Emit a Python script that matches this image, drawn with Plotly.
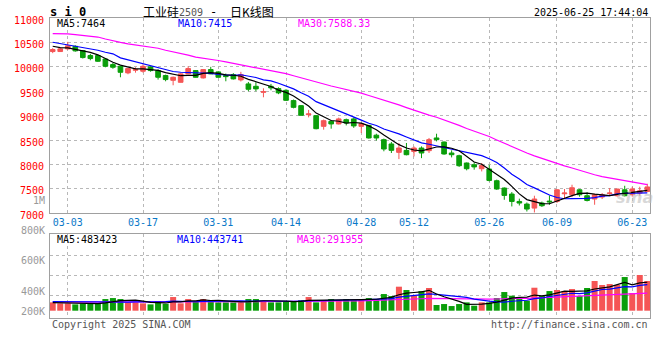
import plotly.graph_objects as go

# ---------------- data ----------------
dates = ["02-27", "02-28",
         "03-03", "03-04", "03-05", "03-06", "03-07",
         "03-10", "03-11", "03-12", "03-13", "03-14",
         "03-17", "03-18", "03-19", "03-20", "03-21",
         "03-24", "03-25", "03-26", "03-27", "03-28",
         "03-31", "04-01", "04-02", "04-03",
         "04-07", "04-08", "04-09", "04-10", "04-11",
         "04-14", "04-15", "04-16", "04-17", "04-18",
         "04-21", "04-22", "04-23", "04-24", "04-25",
         "04-28", "04-29", "04-30",
         "05-06", "05-07", "05-08", "05-09",
         "05-12", "05-13", "05-14", "05-15", "05-16",
         "05-19", "05-20", "05-21", "05-22", "05-23",
         "05-26", "05-27", "05-28", "05-29", "05-30",
         "06-03", "06-04", "06-05", "06-06",
         "06-09", "06-10", "06-11", "06-12", "06-13",
         "06-16", "06-17", "06-18", "06-19", "06-20",
         "06-23", "06-24", "06-25"]

x_tick_labels = ["03-03", "03-17", "03-31", "04-14", "04-28",
                 "05-12", "05-26", "06-09", "06-23"]
price_ticks = [7000, 7500, 8000, 8500, 9000, 9500, 10000, 10500, 11000]

opens = [10313, 10313, 10368, 10420, 10333, 10231, 10231, 10160, 10046, 10011,
         9876, 9930, 9910, 9999, 9923, 9821, 9724, 9683, 9855, 9923,
         9773, 9944, 9896, 9821, 9841, 9732, 9650, 9601, 9478, 9601,
         9554, 9519, 9308, 9205, 9020, 9000, 8781, 8883, 8830, 8918,
         8933, 8781, 8800, 8600, 8508, 8420, 8248, 8289, 8268, 8337,
         8283, 8543, 8460, 8235, 8180, 8030, 7995, 7913, 7907, 7667,
         7517, 7394, 7243, 7189, 7107, 7210, 7250, 7243, 7400, 7380,
         7482, 7360, 7292, 7333, 7405, 7360, 7482, 7380, 7415, 7448]
closes = [10354, 10368, 10430, 10327, 10190, 10169, 10114, 10011, 9991, 9888,
          9964, 9944, 10011, 9923, 9786, 9739, 9786, 9855, 9964, 9786,
          9944, 9855, 9786, 9800, 9753, 9841, 9540, 9548, 9490, 9568,
          9466, 9314, 9170, 9007, 9035, 8733, 8897, 8830, 8933, 8850,
          8790, 8836, 8543, 8543, 8317, 8289, 8337, 8200, 8337, 8235,
          8508, 8508, 8215, 8200, 7975, 7913, 7950, 7981, 7673, 7497,
          7366, 7243, 7210, 7087, 7292, 7155, 7235, 7482, 7415, 7523,
          7380, 7263, 7380, 7380, 7415, 7497, 7360, 7497, 7460, 7540]
highs = [10383, 10385, 10512, 10440, 10345, 10265, 10245, 10175, 10080, 10020,
         9980, 9990, 10050, 10010, 9950, 9840, 9800, 9870, 10011, 9930,
         9950, 10000, 9910, 9862, 9870, 9897, 9690, 9683, 9560, 9650,
         9580, 9540, 9330, 9215, 9118, 9010, 8920, 8900, 8960, 8940,
         8965, 8850, 8810, 8630, 8530, 8460, 8440, 8440, 8370, 8370,
         8543, 8630, 8470, 8290, 8200, 8040, 8042, 8030, 7995, 7690,
         7530, 7435, 7300, 7222, 7360, 7240, 7366, 7497, 7497, 7585,
         7497, 7430, 7400, 7415, 7517, 7500, 7564, 7544, 7544, 7605]
lows = [10280, 10305, 10350, 10310, 10170, 10134, 10100, 9990, 9960, 9786,
        9848, 9880, 9880, 9900, 9739, 9704, 9622, 9680, 9850, 9780,
        9760, 9850, 9780, 9704, 9740, 9700, 9500, 9500, 9376, 9520,
        9440, 9300, 9150, 9000, 8965, 8720, 8713, 8733, 8820, 8800,
        8750, 8645, 8530, 8490, 8270, 8235, 8110, 8187, 8165, 8130,
        8235, 8473, 8200, 8145, 7950, 7880, 7893, 7858, 7653, 7480,
        7277, 7140, 7160, 7037, 7017, 7130, 7175, 7210, 7292, 7333,
        7340, 7243, 7175, 7292, 7360, 7340, 7346, 7340, 7360, 7435]

volumes = [145000, 128000, 128000, 110000, 122000, 122000, 128000, 203000, 220000, 203000,
           145000, 145000, 128000, 110000, 168000, 122000, 238000, 128000, 203000, 168000,
           203000, 186000, 145000, 145000, 145000, 145000, 203000, 203000, 168000, 145000,
           145000, 168000, 168000, 186000, 238000, 145000, 186000, 203000, 186000, 203000,
           186000, 186000, 220000, 203000, 290000, 255000, 418000, 360000, 261000, 342000,
           395000, 99000, 116000, 81000, 116000, 145000, 87000, 145000, 145000, 220000,
           325000, 261000, 203000, 174000, 400000, 255000, 342000, 360000, 342000, 377000,
           255000, 395000, 517000, 447000, 464000, 447000, 586000, 307000, 621000, 517000]

# moving-average values before a full window exists
ma5_head = [10422, 10395, 10389, 10354]
ma10_head = [10504, 10477, 10463, 10436, 10409, 10374, 10340, 10299, 10266]
ma30_head = [10682, 10680, 10676, 10660, 10647, 10630, 10610, 10570, 10530, 10500,
             10470, 10450, 10420, 10400, 10380, 10340, 10310, 10270, 10240, 10200,
             10180, 10150, 10130, 10100, 10070, 10040, 10000, 9980, 9950]
vma5_head = [140000, 135000, 130000, 125000]
vma10_head = [160000, 158000, 155000, 152000, 150000, 148000, 148000, 148000, 150000]
vma30_head = [150000, 150000, 149000, 149000, 148000, 148000, 148000, 147000, 147000, 147000,
              147000, 147000, 147000, 147000, 148000, 148000, 148000, 149000, 150000, 150000,
              151000, 151000, 152000, 152000, 153000, 153000, 154000, 155000, 156000]

price_legend = [("MA5:7464", "#000000"), ("MA10:7415", "#0000ff"), ("MA30:7588.33", "#ff00ff")]
vol_legend = [("MA5:483423", "#000000"), ("MA10:443741", "#0000ff"), ("MA30:291955", "#ff00ff")]
vol_axis_labels = ["1M", "800K", "600K", "400K", "200K"]


def sma(vals, n, head):
    out = list(head)
    for i in range(n - 1, len(vals)):
        out.append(sum(vals[i - n + 1:i + 1]) / n)
    return out


ma5 = sma(closes, 5, ma5_head)
ma10 = sma(closes, 10, ma10_head)
ma30 = sma(closes, 30, ma30_head)
vma5 = sma(volumes, 5, vma5_head)
vma10 = sma(volumes, 10, vma10_head)
vma30 = sma(volumes, 30, vma30_head)

# ---------------- styling ----------------
RED = "#f55555"
GREEN = "#0a9e0a"
MONO = "DejaVu Sans Mono"
CJK = "Noto Sans CJK SC"
GRID = "#b8b8b8"
FRAME = "#a0a0a0"

L, T, W, H = 50, 18, 600, 300


def px(x):
    return (x - L) / W


def py(y):
    return (T + H - y) / H


VOL_PER_PX = 17406
vol_range = [-(T + H - 310.7) * VOL_PER_PX, (310.7 - 234) * VOL_PER_PX]
vol_grid = [(310.7 - g) * VOL_PER_PX for g in (255, 275.3, 295.3)]

fig = go.Figure()

fig.add_trace(go.Candlestick(
    x=dates, open=opens, high=highs, low=lows, close=closes,
    increasing=dict(line=dict(color=RED, width=1), fillcolor=RED),
    decreasing=dict(line=dict(color=GREEN, width=1), fillcolor=GREEN),
    whiskerwidth=0, showlegend=False, hoverinfo="skip",
    xaxis="x", yaxis="y"))

for series, col in ((ma30, "#ff00ff"), (ma10, "#0000ff"), (ma5, "#000000")):
    fig.add_trace(go.Scatter(x=dates, y=series, mode="lines",
                             line=dict(color=col, width=1.2),
                             showlegend=False, hoverinfo="skip",
                             xaxis="x", yaxis="y"))

bar_colors = [RED if c >= o else GREEN for o, c in zip(opens, closes)]
fig.add_trace(go.Bar(x=dates, y=volumes, marker=dict(color=bar_colors, line=dict(width=0)),
                     width=0.8, showlegend=False, hoverinfo="skip",
                     xaxis="x2", yaxis="y2"))
for series, col in ((vma30, "#ff00ff"), (vma10, "#0000ff"), (vma5, "#000000")):
    fig.add_trace(go.Scatter(x=dates, y=series, mode="lines",
                             line=dict(color=col, width=1.2),
                             showlegend=False, hoverinfo="skip",
                             xaxis="x2", yaxis="y2"))

common_x = dict(type="category", range=[-0.36, 79.36], tickvals=x_tick_labels,
                showgrid=True, gridcolor=GRID, griddash="dot", gridwidth=1,
                showline=True, linecolor=FRAME, linewidth=1, mirror=True,
                ticks="", zeroline=False, fixedrange=True, automargin=False)
common_y = dict(showgrid=True, gridcolor=GRID, griddash="dot", gridwidth=1,
                showline=True, linecolor=FRAME, linewidth=1, mirror=True,
                ticks="", zeroline=False, fixedrange=True, automargin=False)

fig.update_layout(
    width=660, height=360,
    margin=dict(l=L, r=660 - L - W, t=T, b=360 - T - H, autoexpand=False),
    paper_bgcolor="white", plot_bgcolor="white",
    showlegend=False, boxgap=0.12, bargap=0.2,
    xaxis=dict(common_x, domain=[0, 1], anchor="y",
               tickfont=dict(family=MONO, size=10, color="#0a78c8"),
               rangeslider=dict(visible=False)),
    yaxis=dict(common_y, domain=[py(213.3), 1], range=[7000, 11000],
               tickvals=price_ticks, ticktext=[str(v) for v in price_ticks],
               tickfont=dict(family=MONO, size=10, color="#ff0000"),
               ticklabelshift=2, ticklabelstandoff=3),
    xaxis2=dict(common_x, domain=[0, 1], anchor="y2", matches="x",
                showticklabels=False),
    yaxis2=dict(common_y, domain=[0, py(234)], range=vol_range,
                tickvals=vol_grid, showticklabels=False),
)

ann = []


def text(x, y, s, color="#000000", size=10, family=MONO, anchor="left", bold=False):
    ann.append(dict(xref="paper", yref="paper", x=px(x), y=py(y),
                    text=("<b>%s</b>" % s) if bold else s, showarrow=False,
                    xanchor=anchor, yanchor="middle",
                    font=dict(family=family, size=size, color=color)))


# header
text(48, 12, "s i 0", size=12, bold=True)
text(141, 12, "工业硅", size=12, family=CJK)
text(177, 12.5, "2509", color="#555555", size=10)
text(213, 12, "-", size=12, family=MONO, anchor="center")
text(228, 12, "日K线图", size=12, family=CJK)
text(650, 12.5, "2025-06-25 17:44:04", anchor="right")

# price MA legend
for (s, c), xx in zip(price_legend, (55, 176, 296)):
    text(xx, 23.5, s, color=c)
# volume MA legend
for (s, c), xx in zip(vol_legend, (55, 175, 295)):
    text(xx, 239, s, color=c)

# volume axis labels (Sina places them at its own positions)
for s, yy in zip(vol_axis_labels, (200.7, 230, 260.7, 291, 311)):
    text(46.5, yy, s, color="#999999", anchor="right")

# footer
text(50, 324, "Copyright 2025 SINA.COM", color="#555555")
text(650, 324, "http://finance.sina.com.cn", color="#555555", anchor="right")

# watermark
ann.append(dict(xref="paper", yref="paper", x=px(634), y=py(197),
                text="<b><i>sina</i></b>", showarrow=False,
                xanchor="center", yanchor="middle",
                font=dict(family="DejaVu Sans", size=16, color="rgba(190,190,190,0.6)")))

fig.update_layout(annotations=ann)

fig.write_html("out.html", config={"displayModeBar": False},
               post_script="document.body.style.margin='0';document.body.style.padding='0';")
